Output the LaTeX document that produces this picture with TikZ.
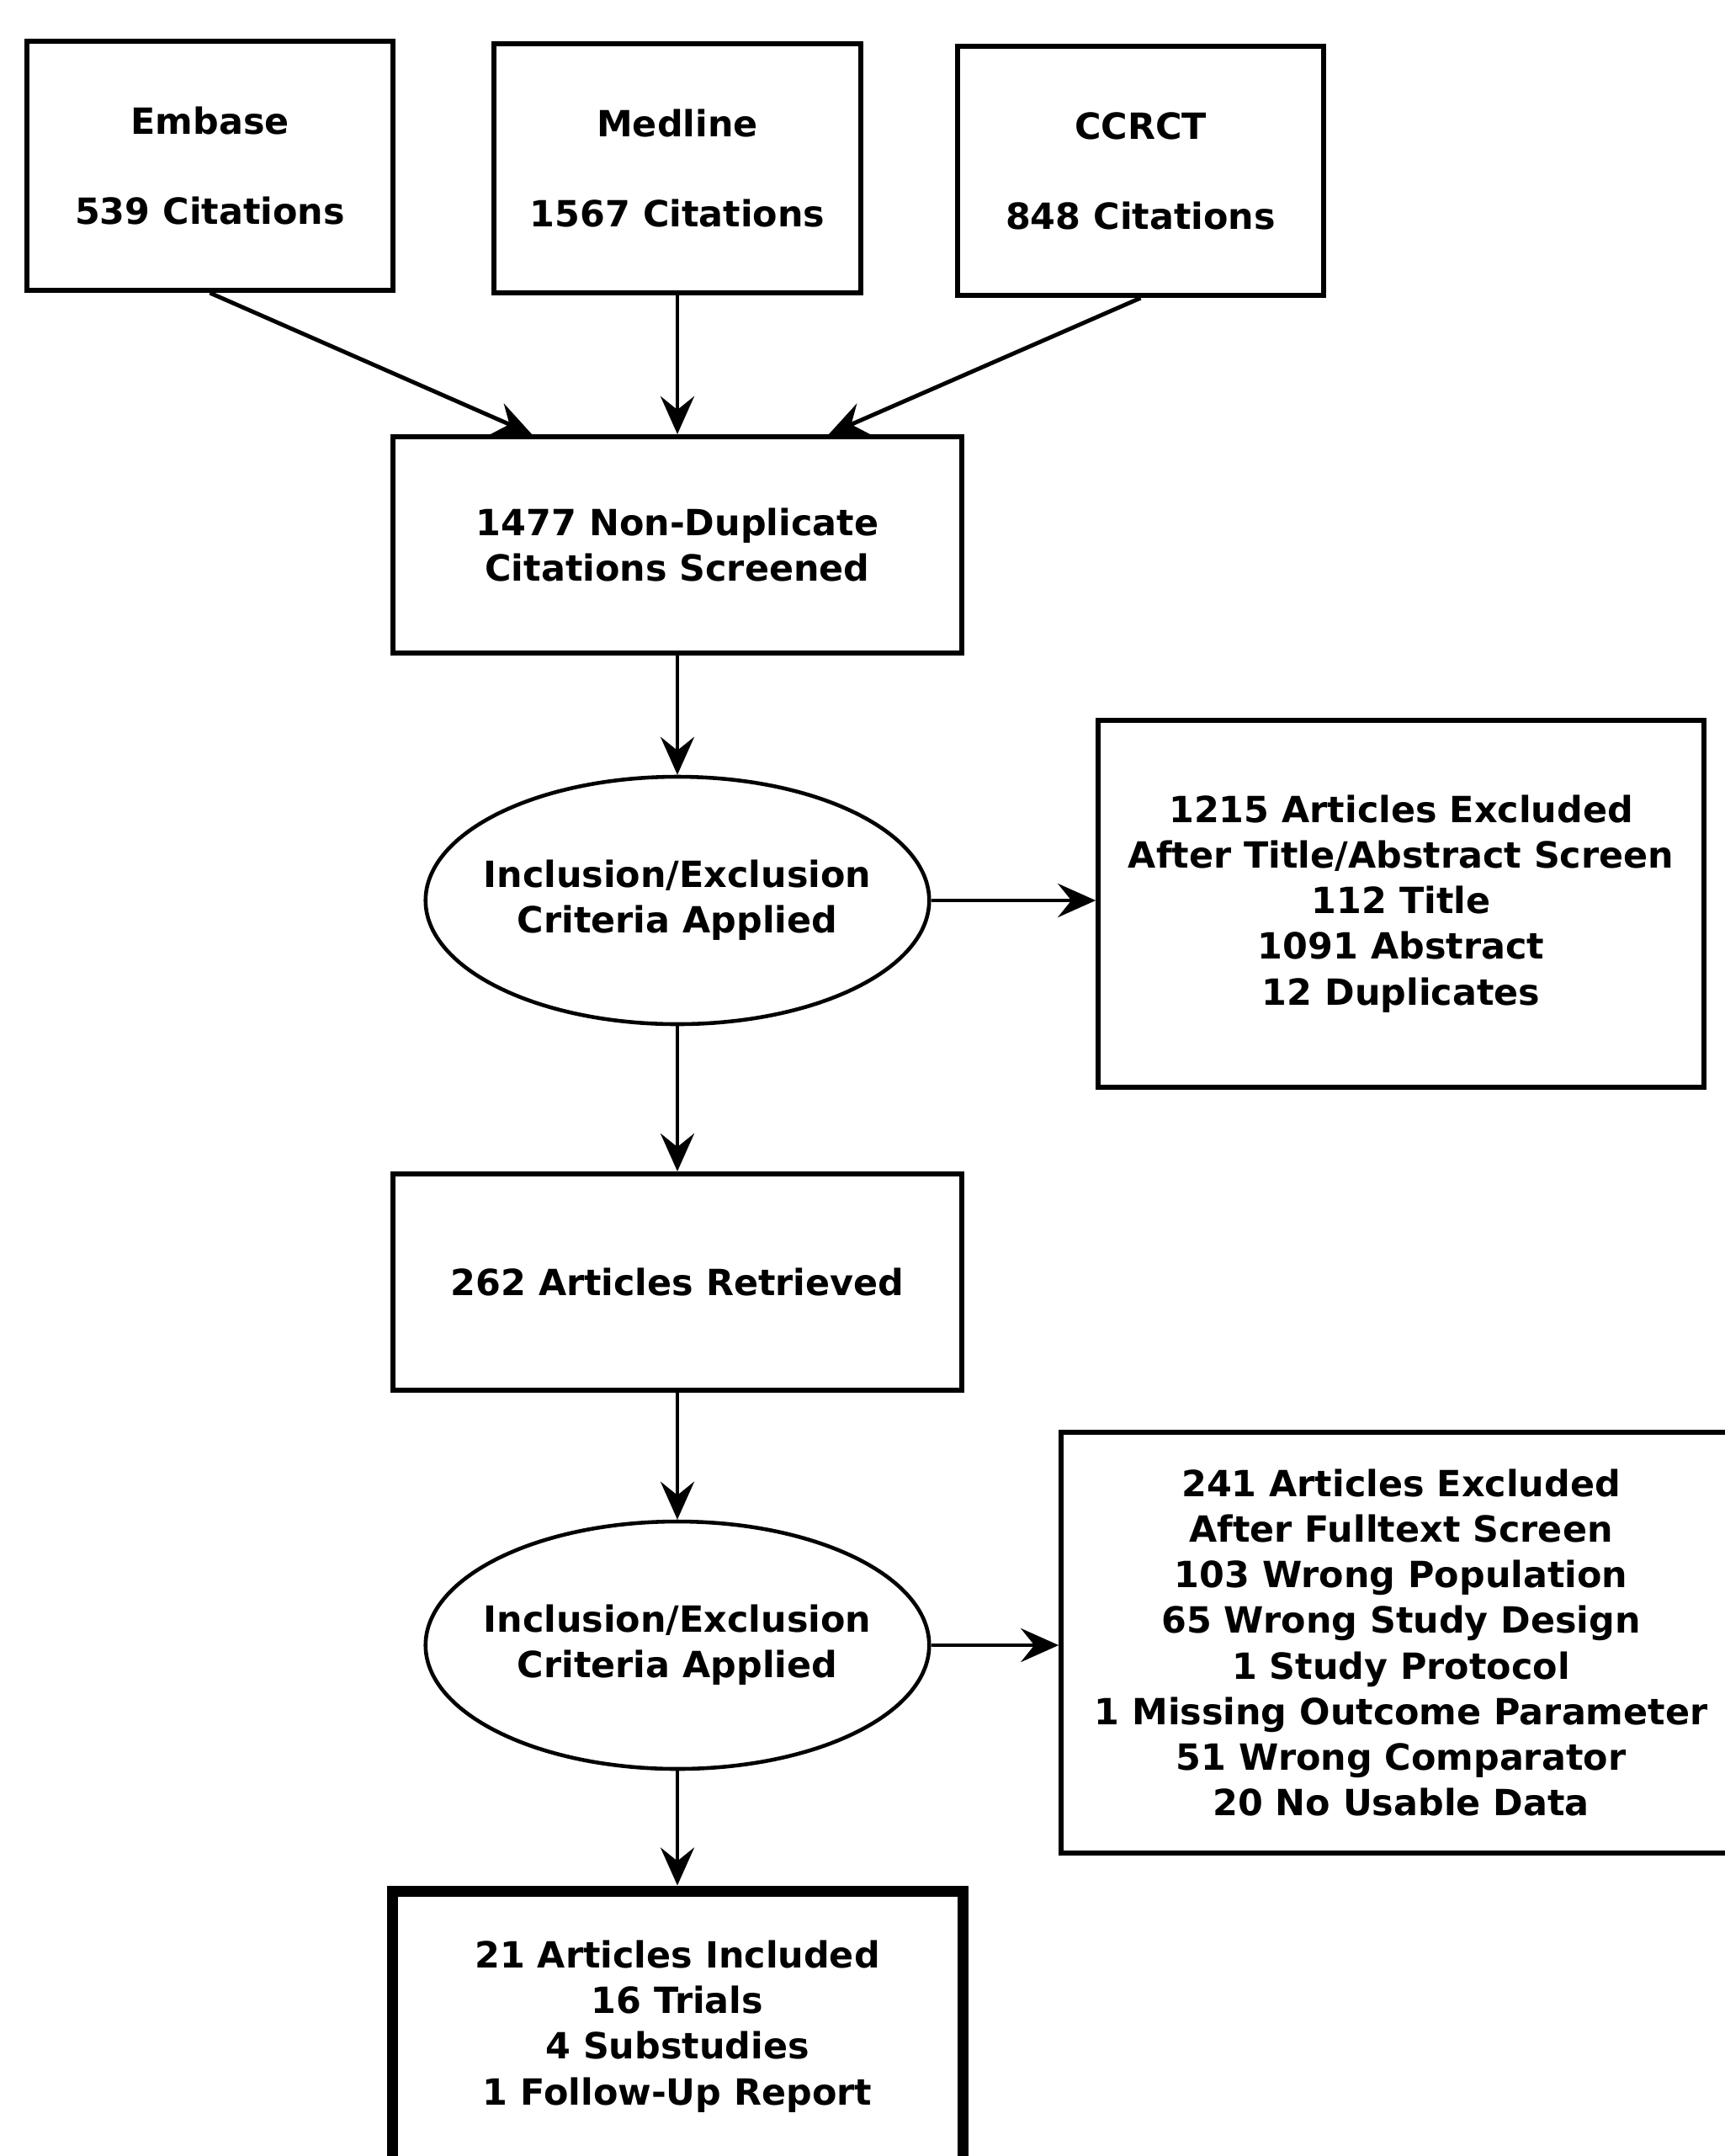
\documentclass[tikz,border=0pt]{standalone}
\usepackage{fontspec}
\setmainfont{DejaVu Sans}
\usepackage{tikz}
\usetikzlibrary{shapes.geometric, arrows.meta}
\tikzstyle{source} = [rectangle, minimum width=4.355cm, minimum height=2.965cm, text centered, draw=black, line width=1.6pt, align=center]
\tikzstyle{process} = [rectangle, minimum width=6.765cm, minimum height=2.575cm, text centered, draw=black, line width=1.6pt, align=center]
\tikzstyle{decision} = [ellipse, minimum width=5.985cm, minimum height=2.94cm, inner xsep=-0.4cm, text centered, draw=black, line width=1.3pt, align=center]
\tikzstyle{excluded} = [rectangle, text centered, draw=black, line width=1.6pt, align=center]
\tikzstyle{included} = [rectangle, minimum width=6.78cm, minimum height=3.22cm, text centered, draw=black, line width=3.7pt, align=center]
\tikzstyle{arrow} = [line width=1.4pt, -{Stealth[length=4.5mm, width=4mm, inset=1.6mm]}]

\begin{document}
\begin{tikzpicture}[font=\bfseries\fontsize{12.2}{15.4}\selectfont]
			\useasboundingbox (0,0) rectangle (20.5,-25.62);
			% databases
			\node (medline) [source] at (8.05,-2.00) {Medline\\[15pt]1567 Citations};
			\node (embase) [source, left of=medline, node distance=5.555cm, yshift=0.03cm] {Embase\\[15pt]539 Citations};
			\node (ccrct) [source, right of=medline, node distance=5.505cm, yshift=-0.03cm] {CCRCT\\[15pt]848 Citations};
			% screening
			\node (nd) [process, below of=medline, node distance=4.475cm] {1477 Non-Duplicate\\Citations Screened};
			\node (crit1) [decision, below of=nd, node distance=4.225cm] {Inclusion/Exclusion\\Criteria Applied};
			\node (excl1) [excluded, right of=crit1, node distance=8.6cm, yshift=-0.04cm, minimum width=7.2cm, minimum height=4.365cm] {1215 Articles Excluded\\After Title/Abstract Screen\\112 Title\\1091 Abstract\\12 Duplicates};
			\node (retr) [process, below of=crit1, node distance=4.535cm] {262 Articles Retrieved};
			\node (crit2) [decision, below of=retr, node distance=4.315cm] {Inclusion/Exclusion\\Criteria Applied};
			\node (excl2) [excluded, right of=crit2, node distance=8.6cm, yshift=0.03cm, minimum width=8.08cm, minimum height=5.005cm] {241 Articles Excluded\\After Fulltext Screen\\103 Wrong Population\\65 Wrong Study Design\\1 Study Protocol\\1 Missing Outcome Parameter\\51 Wrong Comparator\\20 No Usable Data};
			\node (incl) [included, below of=crit2, node distance=4.53cm] {21 Articles Included\\16 Trials\\4 Substudies\\1 Follow-Up Report};
			\draw [arrow] (embase.south) -- ([xshift=-1.73cm]nd.north);
			\draw [arrow] (medline) -- (nd);
			\draw [arrow] (ccrct.south) -- ([xshift=1.80cm]nd.north);
			\draw [arrow] (nd) -- (crit1);
			\draw [arrow] (crit1) -- (excl1.west |- crit1.east);
			\draw [arrow] (crit1) -- (retr);
			\draw [arrow] (retr) -- (crit2);
			\draw [arrow] (crit2) -- (excl2.west |- crit2.east);
			\draw [arrow] (crit2) -- (incl);
		\end{tikzpicture}
\end{document}
